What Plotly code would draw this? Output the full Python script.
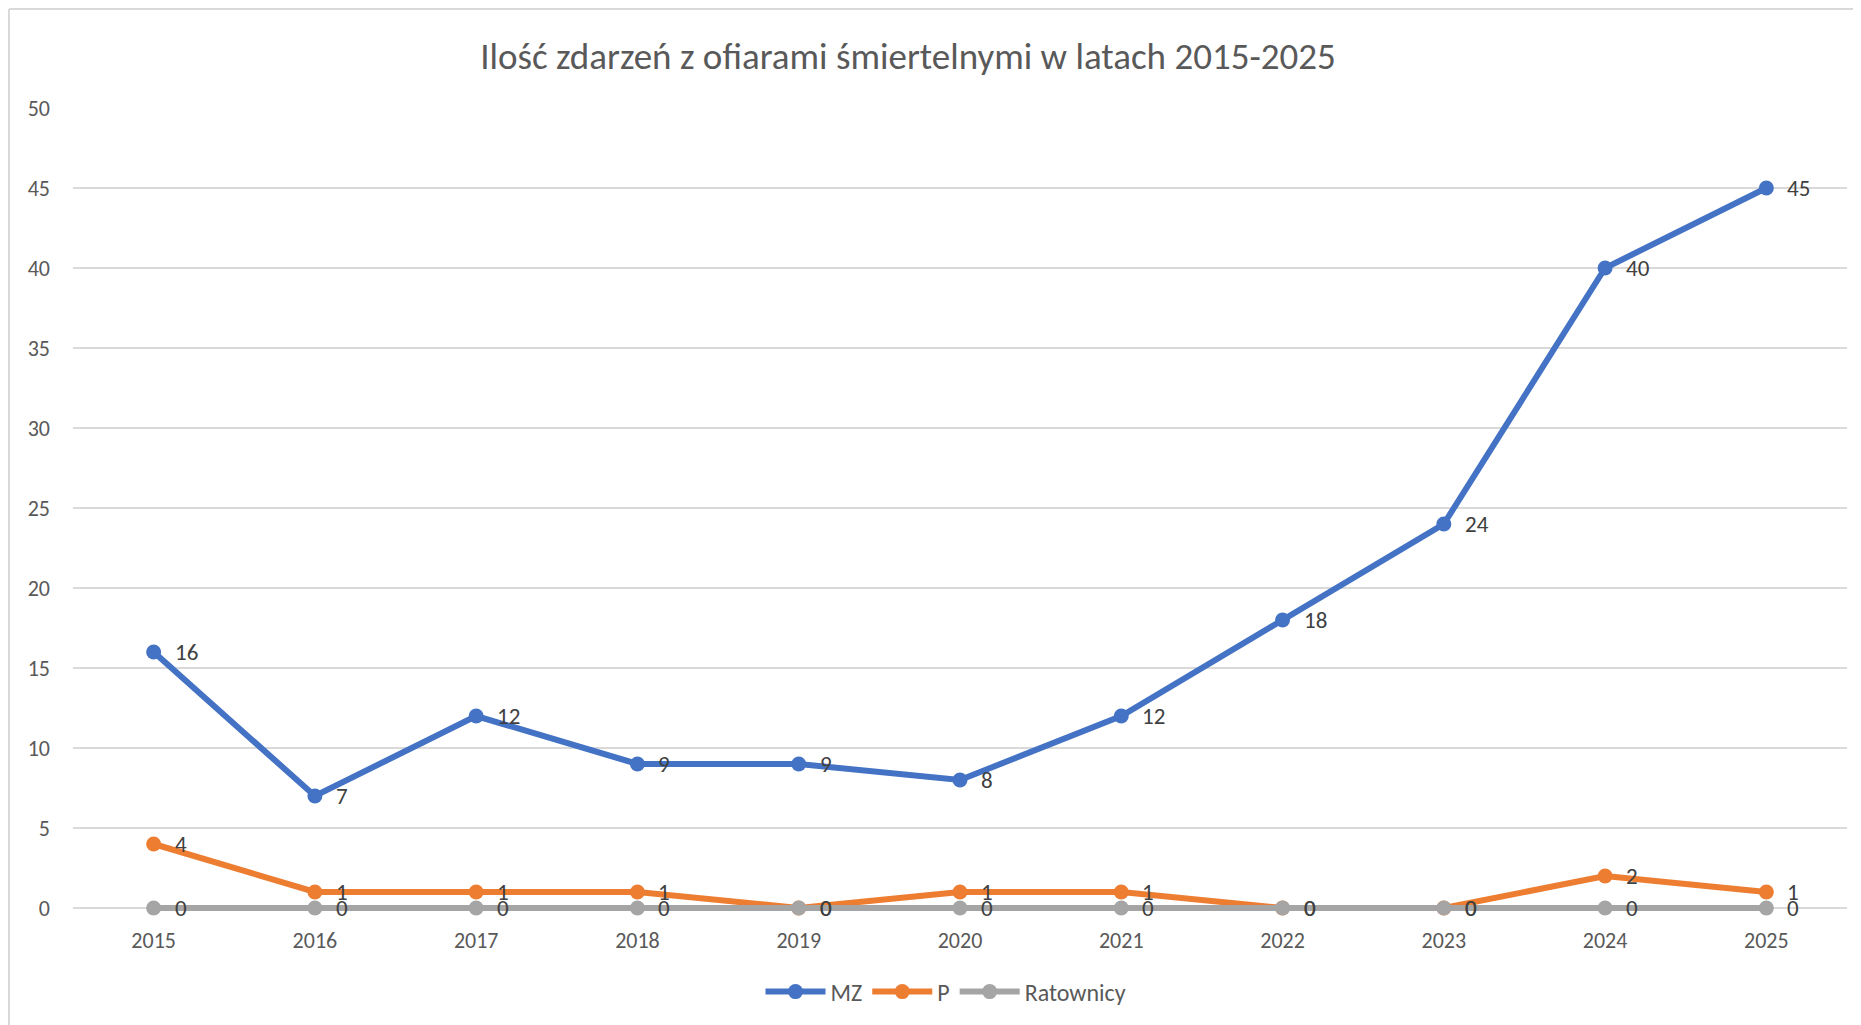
import plotly.graph_objects as go

# dane
years = [2015, 2016, 2017, 2018, 2019, 2020, 2021, 2022, 2023, 2024, 2025]
mz = [16, 7, 12, 9, 9, 8, 12, 18, 24, 40, 45]
p = [4, 1, 1, 1, 0, 1, 1, 0, 0, 2, 1]
ratownicy = [0, 0, 0, 0, 0, 0, 0, 0, 0, 0, 0]

series = [
    ("MZ", mz, "#4472C4"),
    ("P", p, "#ED7D31"),
    ("Ratownicy", ratownicy, "#A5A5A5"),
]

FONT = "Carlito, Calibri, Lato, sans-serif"
TXT = "#595959"

fig = go.Figure()

for name, vals, color in series:
    fig.add_trace(go.Scatter(
        x=years, y=vals, mode="lines+markers", name=name,
        line=dict(color=color, width=6),
        marker=dict(color=color, size=15),
        cliponaxis=False,
    ))

# etykiety danych po prawej stronie punktow
annotations = []
for name, vals, color in series:
    for yr, v in zip(years, vals):
        annotations.append(dict(
            x=yr, y=v, text=str(v), showarrow=False,
            xanchor="left", yanchor="middle", xshift=19,
            font=dict(family=FONT, size=23, color="#404040"),
        ))

# strona ma 8px marginesu body, wiec figura jest o tyle mniejsza
W, H = 1853, 1017
# os y zaczyna sie troche ponizej zera, zeby linia na zerze nie byla ucieta
ml, mr, mt, mb = 65, 14, 100, 112
pw, ph = W - ml - mr, H - mt - mb

# ramka wykresu (lewa i gorna krawedz)
bx = (1 - ml) / pw
by = 1 + (mt - 1) / ph
shapes = [
    dict(type="line", xref="paper", yref="paper", x0=bx, x1=bx, y0=-0.5, y1=by,
         line=dict(color="#D9D9D9", width=2)),
    dict(type="line", xref="paper", yref="paper", x0=bx, x1=1.5, y0=by, y1=by,
         line=dict(color="#D9D9D9", width=2)),
]

fig.update_layout(
    width=W, height=H,
    margin=dict(l=ml, r=mr, t=mt, b=mb),
    paper_bgcolor="white", plot_bgcolor="white",
    font=dict(family=FONT, color=TXT, size=22),
    title=dict(text="Ilość zdarzeń z ofiarami śmiertelnymi w latach 2015-2025",
               x=900 / W, xanchor="center", y=1 - 48 / H, yanchor="middle",
               font=dict(family=FONT, size=37, color=TXT)),
    showlegend=True,
    legend=dict(orientation="h", x=938 / W, xref="container", xanchor="center",
                y=1 - 984 / H, yref="container", yanchor="middle",
                font=dict(family=FONT, size=24, color=TXT), itemwidth=60),
    annotations=annotations,
    shapes=shapes,
)

fig.update_xaxes(range=[2014.5, 2025.5], dtick=1, showgrid=False, showline=False,
                 zeroline=False, ticks="", ticklabelstandoff=12,
                 tickfont=dict(family=FONT, size=22, color=TXT))
fig.update_yaxes(range=[-0.3125, 50], tick0=0, dtick=5, showgrid=True,
                 gridcolor="#D9D9D9", gridwidth=2,
                 zeroline=False, showline=False, ticks="", ticklabelstandoff=22,
                 tickfont=dict(family=FONT, size=22, color=TXT))

fig.write_html("out.html")
